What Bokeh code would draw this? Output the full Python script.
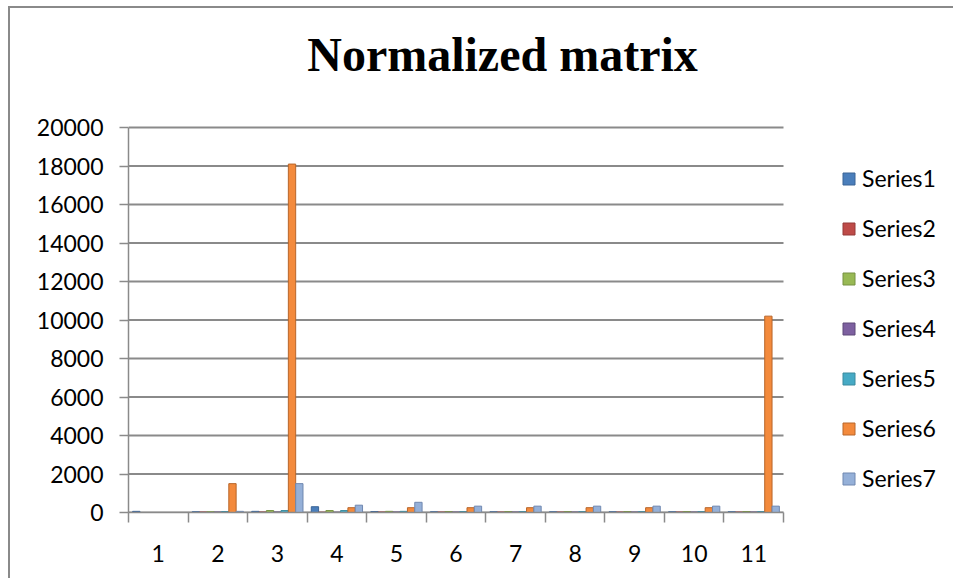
from bokeh.plotting import figure
from bokeh.models import (ColumnDataSource, Range1d, FixedTicker, Legend, LegendItem, Label)
from bokeh.transform import dodge
from bokeh.embed import file_html
from bokeh.resources import INLINE

# ---- data ----
categories = ["1", "2", "3", "4", "5", "6", "7", "8", "9", "10", "11"]
series1 = [60, 40, 60, 300, 50, 40, 40, 40, 40, 40, 40]
series2 = [0, 30, 30, 20, 30, 30, 30, 30, 30, 30, 30]
series3 = [0, 40, 100, 100, 60, 50, 50, 50, 50, 50, 50]
series4 = [0, 30, 30, 20, 30, 30, 30, 30, 30, 30, 30]
series5 = [0, 50, 100, 100, 60, 50, 50, 50, 50, 50, 50]
series6 = [0, 1500, 18100, 250, 250, 250, 250, 250, 250, 250, 10200]
series7 = [0, 60, 1500, 380, 530, 330, 330, 330, 330, 330, 330]
series_names = ["Series1", "Series2", "Series3", "Series4", "Series5", "Series6", "Series7"]
y_ticks = [0, 2000, 4000, 6000, 8000, 10000, 12000, 14000, 16000, 18000, 20000]
title_text = "Normalized matrix"

series_values = [series1, series2, series3, series4, series5, series6, series7]
fills = ["#4A7EBB", "#BE4B48", "#98B954", "#7D60A0", "#46AAC5", "#F38A3C", "#95B0D8"]
edges = ["#3A6496", "#953A38", "#779143", "#5F4878", "#3A8A9E", "#B8662A", "#7088B0"]

pos = [i + 0.5 for i in range(len(categories))]
data = {"pos": pos, "cat": categories}
for nm, v in zip(series_names, series_values):
    data[nm] = v
source = ColumnDataSource(data)

# page layout (pixels): outer chart border at (8, 6), 2px wide; plot area 128..783 x 127..512
MX, MY, BW = 8, 6, 2
W, H = 955 - MX - BW, 580 - MY - BW
PL, PR, PT, PB = 128, 783, 127, 512
n = len(categories)
ymax = y_ticks[-1]
FRAME_TOP = MY + BW
# the frame covers everything right of / above the axes, so legend and title are not clipped
x_hi = n * (955 - PL) / (PR - PL)
y_hi = ymax * (PB - FRAME_TOP) / (PB - PT)

p = figure(width=W, height=H, output_backend="svg", toolbar_location=None,
           x_range=Range1d(0, x_hi), y_range=Range1d(0, y_hi),
           min_border_left=PL - MX - BW, min_border_right=0,
           min_border_top=0, min_border_bottom=580 - PB)
p.margin = (MY, 0, 0, MX)
p.styles = {"border-left": "2px solid #8A8A8A", "border-top": "2px solid #8A8A8A"}
p.outline_line_color = None
p.background_fill_color = "white"
p.border_fill_color = "white"

# horizontal gridlines only across the plot area
p.xgrid.visible = False
p.ygrid.visible = False
p.segment(x0=[0] * len(y_ticks), x1=[n] * len(y_ticks), y0=y_ticks, y1=y_ticks,
          line_color="#8A8A8A", line_width=2)

bw = 0.123
items = []
for k, nm in enumerate(series_names):
    r = p.vbar(x=dodge("pos", (k - 3) * bw, range=p.x_range), top=nm, width=bw,
               source=source, fill_color=fills[k], line_color=edges[k], line_width=1)
    items.append(LegendItem(label=nm, renderers=[r]))

font = "Lato"
ya = p.yaxis[0]
ya.ticker = FixedTicker(ticks=y_ticks)
ya.bounds = (0, ymax)
ya.axis_line_color = "#8A8A8A"
ya.axis_line_width = 1.5
ya.major_tick_line_color = "#8A8A8A"
ya.major_tick_line_width = 1.5
ya.major_tick_out = 9
ya.major_tick_in = 0
ya.minor_tick_line_color = None
ya.major_label_standoff = 16
ya.major_label_text_font = font
ya.major_label_text_font_size = "23px"
ya.major_label_text_color = "black"

xa = p.xaxis[0]
xa.ticker = FixedTicker(ticks=pos, minor_ticks=list(range(n + 1)))
xa.bounds = (0, n)
xa.major_label_overrides = {pp: c for pp, c in zip(pos, categories)}
xa.axis_line_color = "#8A8A8A"
xa.axis_line_width = 1.5
xa.major_tick_line_color = None
xa.major_tick_out = 0
xa.minor_tick_line_color = "#8A8A8A"
xa.minor_tick_line_width = 1.5
xa.minor_tick_out = 10
xa.minor_tick_in = 0
xa.major_label_standoff = 22
xa.major_label_text_font = font
xa.major_label_text_font_size = "23px"
xa.major_label_text_color = "black"

# legend (inside the wide frame, to the right of the plot area)
legend = Legend(items=items, location=(841 - PL, 20), orientation="vertical",
                glyph_width=15, glyph_height=15, label_standoff=6,
                label_height=26, spacing=22, padding=0, margin=0,
                border_line_color=None, background_fill_alpha=0,
                label_text_font=font, label_text_font_size="23px",
                label_text_color="black")
p.add_layout(legend, "center")

# title
px_x = lambda px: (px - PL) / (PR - PL) * n
px_y = lambda py: (PB - py) / (PB - PT) * ymax
p.add_layout(Label(x=px_x(502), y=px_y(54), text=title_text, text_align="center",
                   text_baseline="alphabetic", text_font="Liberation Serif",
                   text_font_style="bold", text_font_size="48px", text_color="black"))

open("out.html", "w").write(file_html(p, INLINE))
